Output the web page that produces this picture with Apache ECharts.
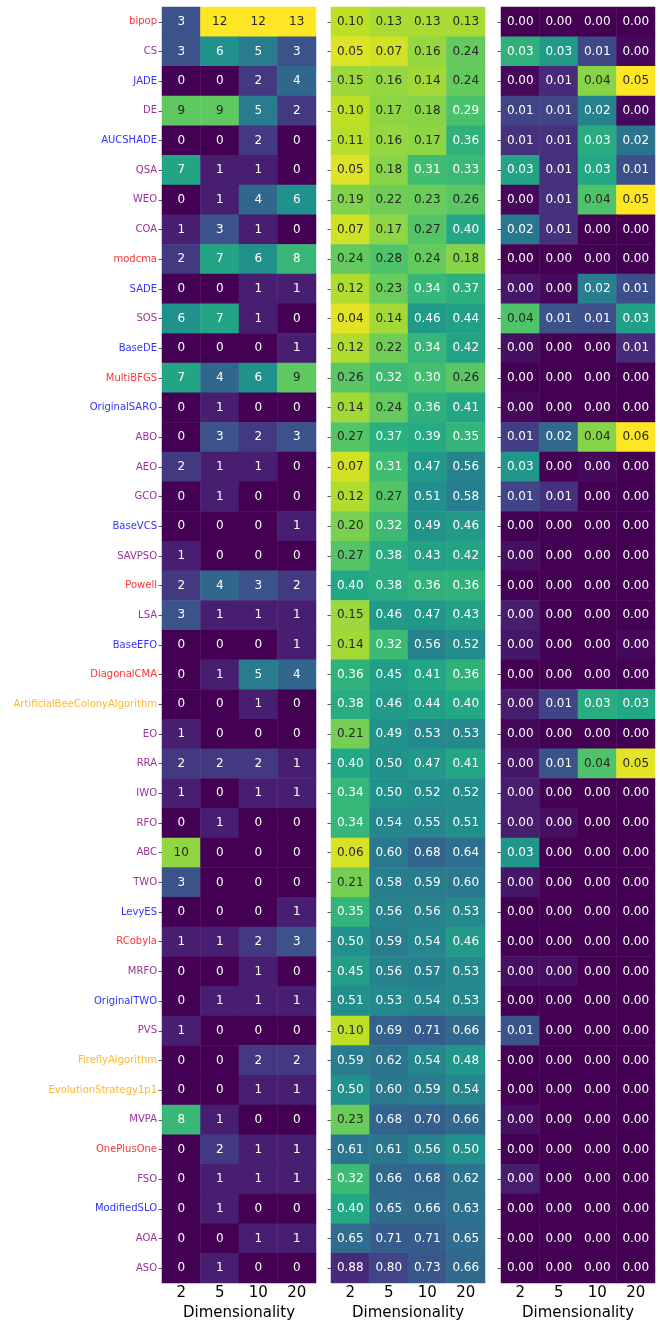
<!DOCTYPE html>
<html lang="en">
<head>
    <meta charset="UTF-8">
    <title>heatmaps</title>
    <style>
        body {
            margin: 0;
            overflow: hidden;
            background: #fff;
        }
    </style>
</head>
<body>
    <div id="chart" style="width:660px;height:1320px;"></div>
    <script type="text/javascript" src="https://cdn.jsdelivr.net/npm/echarts/dist/echarts.min.js"></script>
    <script type="text/javascript">
        // data
        var dims = ['2', '5', '10', '20'];
        var algorithms = ['bipop', 'CS', 'JADE', 'DE', 'AUCSHADE', 'QSA', 'WEO', 'COA', 'modcma', 'SADE',
            'SOS', 'BaseDE', 'MultiBFGS', 'OriginalSARO', 'ABO', 'AEO', 'GCO', 'BaseVCS', 'SAVPSO', 'Powell',
            'LSA', 'BaseEFO', 'DiagonalCMA', 'ArtificialBeeColonyAlgorithm', 'EO', 'RRA', 'IWO', 'RFO', 'ABC', 'TWO',
            'LevyES', 'RCobyla', 'MRFO', 'OriginalTWO', 'PVS', 'FireflyAlgorithm', 'EvolutionStrategy1p1', 'MVPA',
            'OnePlusOne', 'FSO', 'ModifiedSLO', 'AOA', 'ASO'];
        // 0 = red, 1 = purple, 2 = blue, 3 = orange
        var nameGroup = [0, 1, 2, 1, 2, 1, 1, 1, 0, 2,
            1, 2, 0, 2, 1, 1, 1, 2, 1, 0,
            1, 2, 0, 3, 1, 1, 1, 1, 1, 1,
            2, 0, 1, 2, 1, 3, 3, 1,
            0, 1, 2, 1, 1];

        var countValues = [
            [3, 12, 12, 13], [3, 6, 5, 3], [0, 0, 2, 4], [9, 9, 5, 2], [0, 0, 2, 0],
            [7, 1, 1, 0], [0, 1, 4, 6], [1, 3, 1, 0], [2, 7, 6, 8], [0, 0, 1, 1],
            [6, 7, 1, 0], [0, 0, 0, 1], [7, 4, 6, 9], [0, 1, 0, 0], [0, 3, 2, 3],
            [2, 1, 1, 0], [0, 1, 0, 0], [0, 0, 0, 1], [1, 0, 0, 0], [2, 4, 3, 2],
            [3, 1, 1, 1], [0, 0, 0, 1], [0, 1, 5, 4], [0, 0, 1, 0], [1, 0, 0, 0],
            [2, 2, 2, 1], [1, 0, 1, 1], [0, 1, 0, 0], [10, 0, 0, 0], [3, 0, 0, 0],
            [0, 0, 0, 1], [1, 1, 2, 3], [0, 0, 1, 0], [0, 1, 1, 1], [1, 0, 0, 0],
            [0, 0, 2, 2], [0, 0, 1, 1], [8, 1, 0, 0], [0, 2, 1, 1], [0, 1, 1, 1],
            [0, 1, 0, 0], [0, 0, 1, 1], [0, 1, 0, 0]
        ];

        var middleValues = [
            [0.10, 0.13, 0.13, 0.13], [0.05, 0.07, 0.16, 0.24], [0.15, 0.16, 0.14, 0.24], [0.10, 0.17, 0.18, 0.29],
            [0.11, 0.16, 0.17, 0.36], [0.05, 0.18, 0.31, 0.33], [0.19, 0.22, 0.23, 0.26], [0.07, 0.17, 0.27, 0.40],
            [0.24, 0.28, 0.24, 0.18], [0.12, 0.23, 0.34, 0.37], [0.04, 0.14, 0.46, 0.44], [0.12, 0.22, 0.34, 0.42],
            [0.26, 0.32, 0.30, 0.26], [0.14, 0.24, 0.36, 0.41], [0.27, 0.37, 0.39, 0.35], [0.07, 0.31, 0.47, 0.56],
            [0.12, 0.27, 0.51, 0.58], [0.20, 0.32, 0.49, 0.46], [0.27, 0.38, 0.43, 0.42], [0.40, 0.38, 0.36, 0.36],
            [0.15, 0.46, 0.47, 0.43], [0.14, 0.32, 0.56, 0.52], [0.36, 0.45, 0.41, 0.36], [0.38, 0.46, 0.44, 0.40],
            [0.21, 0.49, 0.53, 0.53], [0.40, 0.50, 0.47, 0.41], [0.34, 0.50, 0.52, 0.52], [0.34, 0.54, 0.55, 0.51],
            [0.06, 0.60, 0.68, 0.64], [0.21, 0.58, 0.59, 0.60], [0.35, 0.56, 0.56, 0.53], [0.50, 0.59, 0.54, 0.46],
            [0.45, 0.56, 0.57, 0.53], [0.51, 0.53, 0.54, 0.53], [0.10, 0.69, 0.71, 0.66], [0.59, 0.62, 0.54, 0.48],
            [0.50, 0.60, 0.59, 0.54], [0.23, 0.68, 0.70, 0.66], [0.61, 0.61, 0.56, 0.50], [0.32, 0.66, 0.68, 0.62],
            [0.40, 0.65, 0.66, 0.63], [0.65, 0.71, 0.71, 0.65], [0.88, 0.80, 0.73, 0.66]
        ];

        var rightValues = [
            [0, 0, 0, 0], [0.032, 0.027, 0.011, 0.001], [0.001, 0.006, 0.041, 0.05], [0.01, 0.01, 0.022, 0.001],
            [0.007, 0.007, 0.031, 0.019], [0.029, 0.007, 0.03, 0.012], [0.001, 0.007, 0.036, 0.05], [0.02, 0.007, 0, 0],
            [0, 0, 0, 0], [0.003, 0.001, 0.021, 0.012], [0.036, 0.013, 0.012, 0.028], [0.002, 0, 0, 0.006],
            [0, 0, 0, 0], [0.001, 0, 0, 0], [0.009, 0.017, 0.041, 0.06], [0.026, 0, 0.001, 0],
            [0.01, 0.007, 0, 0], [0, 0, 0, 0], [0.002, 0, 0, 0], [0, 0, 0, 0],
            [0.004, 0, 0, 0], [0.003, 0, 0, 0.001], [0, 0, 0, 0], [0.004, 0.01, 0.031, 0.03],
            [0.001, 0, 0, 0], [0.003, 0.013, 0.036, 0.048], [0.004, 0, 0, 0], [0.004, 0.002, 0, 0],
            [0.026, 0, 0, 0], [0.003, 0, 0, 0], [0, 0, 0, 0], [0, 0, 0, 0],
            [0.002, 0.002, 0, 0], [0, 0, 0, 0], [0.013, 0, 0, 0], [0, 0, 0, 0],
            [0, 0, 0, 0], [0.002, 0, 0, 0], [0, 0, 0, 0], [0.004, 0, 0, 0],
            [0, 0, 0, 0], [0, 0, 0, 0], [0, 0, 0, 0]
        ];

        // styles
        var groupColors = ['#ff3333', '#993399', '#3333ff', '#ffb733'];
        var viridis = ['#440154', '#482475', '#414487', '#355f8d', '#2a788e', '#21918c',
            '#22a884', '#44bf70', '#7ad151', '#bddf26', '#fde725'];
        var font = 'DejaVu Sans';

        function hexRgb(h) {
            return [parseInt(h.substr(1, 2), 16), parseInt(h.substr(3, 2), 16), parseInt(h.substr(5, 2), 16)];
        }

        function viridisAt(t) {
            t = Math.max(0, Math.min(1, t));
            var pos = t * (viridis.length - 1);
            var i = Math.min(Math.floor(pos), viridis.length - 2);
            var f = pos - i;
            var a = hexRgb(viridis[i]), b = hexRgb(viridis[i + 1]);
            return [a[0] + (b[0] - a[0]) * f, a[1] + (b[1] - a[1]) * f, a[2] + (b[2] - a[2]) * f];
        }

        // same rule as seaborn annot: dark text on light cells
        function textColor(t) {
            var c = viridisAt(t).map(function (v) {
                v = v / 255;
                return v <= 0.03928 ? v / 12.92 : Math.pow((v + 0.055) / 1.055, 2.4);
            });
            var lum = 0.2126 * c[0] + 0.7152 * c[1] + 0.0722 * c[2];
            return lum > 0.408 ? '#262626' : '#ffffff';
        }

        function cells(rows, vmin, vmax, reverse) {
            var out = [];
            rows.forEach(function (row, j) {
                row.forEach(function (v, i) {
                    var t = (v - vmin) / (vmax - vmin);
                    if (reverse) t = 1 - t;
                    out.push({ value: [i, j, v], label: { color: textColor(t) } });
                });
            });
            return out;
        }

        var gridLefts = [162, 331, 501];
        var grids = [], xAxes = [], yAxes = [];
        gridLefts.forEach(function (left, k) {
            grids.push({ left: left, top: 7, width: 154, height: 1276, outerBoundsMode: 'none' });
            xAxes.push({
                type: 'category',
                gridIndex: k,
                data: dims,
                axisLine: { show: false },
                axisTick: { show: false },
                axisLabel: { margin: 3, fontSize: 15, color: '#000', fontFamily: font },
                name: 'Dimensionality',
                nameLocation: 'middle',
                nameGap: 19,
                nameTextStyle: { fontSize: 15, color: '#000', fontFamily: font }
            });
            yAxes.push({
                type: 'category',
                gridIndex: k,
                inverse: true,
                data: algorithms.map(function (name, j) {
                    return { value: name, textStyle: { color: groupColors[nameGroup[j]] } };
                }),
                axisLine: { show: false },
                axisTick: { show: true, alignWithLabel: true, length: 3.5, lineStyle: { color: '#333', width: 0.8 } },
                axisLabel: { show: k === 0, margin: 5, fontSize: 10, fontFamily: font, interval: 0 }
            });
        });

        function heat(k, rows, vmin, vmax, reverse, digits) {
            return {
                type: 'heatmap',
                xAxisIndex: k,
                yAxisIndex: k,
                data: cells(rows, vmin, vmax, reverse),
                itemStyle: { borderWidth: 0 },
                label: {
                    show: true,
                    fontSize: 12,
                    fontFamily: font,
                    formatter: function (p) {
                        return p.value[2].toFixed(digits);
                    }
                },
                emphasis: { disabled: true }
            };
        }

        var myChart = echarts.init(document.getElementById('chart'));
        var option = {
            animation: false,
            grid: grids,
            xAxis: xAxes,
            yAxis: yAxes,
            visualMap: [
                { show: false, seriesIndex: 0, dimension: 2, min: 0, max: 12, inRange: { color: viridis } },
                { show: false, seriesIndex: 1, dimension: 2, min: 0, max: 1, inRange: { color: viridis.slice().reverse() } },
                { show: false, seriesIndex: 2, dimension: 2, min: 0, max: 0.05, inRange: { color: viridis } }
            ],
            series: [
                heat(0, countValues, 0, 12, false, 0),
                heat(1, middleValues, 0, 1, true, 2),
                heat(2, rightValues, 0, 0.05, false, 2)
            ]
        };
        myChart.setOption(option);
    </script>
</body>
</html>
